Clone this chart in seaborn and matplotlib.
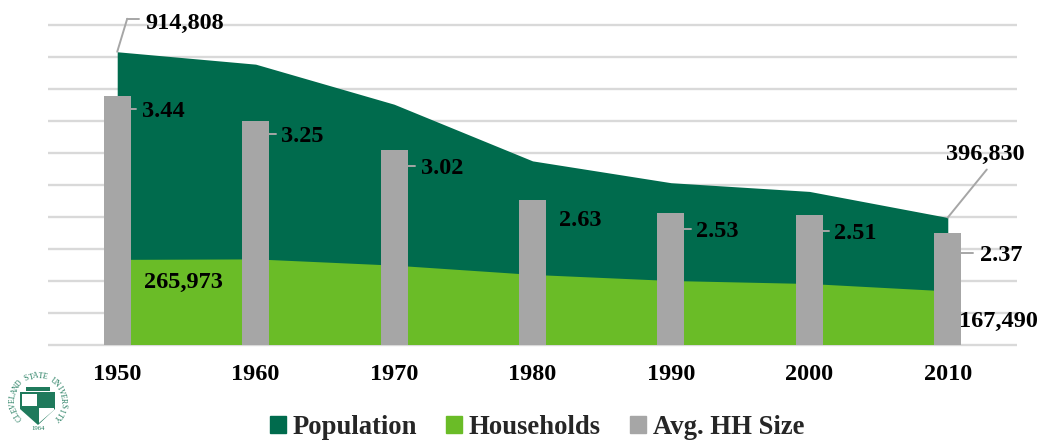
import matplotlib
matplotlib.use("Agg")
import matplotlib.pyplot as plt
from matplotlib.patches import Patch, Polygon, Rectangle
import numpy as np
import pandas as pd
import seaborn as sns

# Data
years = ["1950", "1960", "1970", "1980", "1990", "2000", "2010"]
population = [914808, 876050, 750903, 573822, 505616, 478403, 396830]
households = [265973, 267500, 248000, 219000, 200000, 190600, 167490]
hh_size = [3.44, 3.25, 3.02, 2.63, 2.53, 2.51, 2.37]

DARK = "#006B4D"
LIGHT = "#6ABC27"
GREY = "#A6A6A6"
GRID = "#D9D9D9"
LEADER = "#A6A6A6"
W, H = 1040, 441

sns.set_theme(style="white")
plt.rcParams["font.family"] = ["Liberation Serif", "DejaVu Serif"]
plt.rcParams["font.weight"] = "bold"

df = pd.DataFrame({"year": years, "population": population,
                   "households": households, "hh_size": hh_size})
pos = np.arange(len(years))

fig = plt.figure(figsize=(W / 100, H / 100), dpi=100, facecolor="white")
ax = fig.add_axes([48 / W, 1 - 344.5 / H, 969 / W, 320 / H])

# Areas on the primary axis, bars on the secondary one
ax.fill_between(pos, df["population"], color=DARK, lw=0, zorder=2)
ax.fill_between(pos, df["households"], color=LIGHT, lw=0, zorder=3)

ax2 = ax.twinx()
sns.barplot(data=df, x="year", y="hh_size", color=GREY, saturation=1,
            width=0.195, linewidth=0, ax=ax2, zorder=3)
ax2.set_ylim(1.5, 4.0)
ax2.set_ylabel("")
ax2.set_xlabel("")
ax2.set_yticks([])
ax2.patch.set_alpha(0)

ax.set_xlim(-0.5, len(years) - 0.5)
ax.set_ylim(0, 1000000)
ax.set_yticks(np.arange(0, 1000001, 100000))
ax.set_yticklabels([])
ax.set_xticks(pos)
ax.set_xticklabels(years, fontsize=17.5, fontweight="bold", color="black")
ax.tick_params(axis="x", length=0, pad=14)
ax.tick_params(axis="y", length=0)
ax.grid(axis="y", color=GRID, lw=1.7, zorder=0)
ax.set_axisbelow(True)
for line in ax.get_ygridlines():
    line.set_clip_on(False)
    line.set_solid_capstyle("butt")
for a in (ax, ax2):
    for side, sp in a.spines.items():
        sp.set_visible(False)


def label(coords, i, val, text, dx, dy):
    # drawn on ax2 so the text stays above the bars
    ax2.annotate(text, xy=(i, val), xycoords=coords, xytext=(dx, dy),
                 textcoords="offset pixels", fontsize=17.5, fontweight="bold",
                 color="black", ha="left", va="center", zorder=10, annotation_clip=False)


def seg(axis, i, val, p0, p1):
    # straight leader piece, both ends given as pixel offsets from the point
    x, y = axis.transData.transform((i, val))
    inv = fig.transFigure.inverted()
    a = inv.transform((x + p0[0], y + p0[1]))
    b = inv.transform((x + p1[0], y + p1[1]))
    fig.add_artist(plt.Line2D([a[0], b[0]], [a[1], b[1]], color=LEADER, lw=1.4, zorder=9))


# Population / household labels
label(ax.transData, 0, population[0], f"{population[0]:,}", 28.5, 28)
seg(ax, 0, population[0], (0, 0), (10, 33))
seg(ax, 0, population[0], (10, 33), (22, 33))
label(ax.transData, 6, population[6], f"{population[6]:,}", -1.5, 63)
seg(ax, 6, population[6], (0, 0), (39, 48))
label(ax.transData, 0, households[0], f"{households[0]:,}", 26.5, -23)
label(ax.transData, 6, households[6], f"{households[6]:,}", 11.5, -31)

# Bar labels, with short leaders except where the label sits clear of the bar
size_dx = [24.5, 25, 26.5, 27, 25.5, 25, 32.5]
size_dy = [-15.5, -15.5, -18.5, -20.5, -18.5, -18.5, -22.5]
lead_y = [-13, -13, -16, None, -16, -16, -20]
lead_end = [19, 20, 21, None, 20.5, 20, 25]
for i, v in enumerate(hh_size):
    label(ax2.transData, i, v, f"{v:.2f}", size_dx[i], size_dy[i])
    if lead_end[i] is not None:
        seg(ax2, i, v, (13.5, lead_y[i]), (lead_end[i], lead_y[i]))

handles = [Patch(color=DARK, label="Population"), Patch(color=LIGHT, label="Households"),
           Patch(color=GREY, label="Avg. HH Size")]
fig.legend(handles=handles, loc="center", bbox_to_anchor=(537 / W, 1 - 427 / H), ncol=3,
           frameon=False, prop={"size": 19.2, "weight": "bold"}, handlelength=0.6,
           handleheight=0.6, handletextpad=0.25, columnspacing=1.09, borderpad=0)

# University seal, lower left corner
logo = fig.add_axes([8 / W, 1 - 431 / H, 60 / W, 60 / H])
logo.set_xlim(-30, 30)
logo.set_ylim(-30, 30)
logo.axis("off")
SEAL = "#1F7A5C"
ring = "CLEVELAND STATE UNIVERSITY"
angles = np.linspace(222, -42, len(ring))
for ch, ang in zip(ring, angles):
    r = np.radians(ang)
    logo.text(25 * np.cos(r), 25 * np.sin(r), ch, rotation=ang - 90, fontsize=5.6,
              fontweight="normal", color=SEAL, ha="center", va="center")
logo.text(0, -27, "1964", fontsize=4.8, fontweight="normal", color=SEAL, ha="center", va="center")
logo.add_patch(Polygon([(-18, 9), (17, 9), (17, -8), (0, -24), (-18, -8)], color=SEAL, lw=0))
logo.add_patch(Rectangle((-16, -5), 15, 12, color="white", lw=0))
logo.add_patch(Polygon([(1, -7), (16, -7), (16, -9), (1, -22)], color="white", lw=0))
logo.add_patch(Rectangle((-12, 10.5), 24, 4, color=SEAL, lw=0))

fig.savefig("out.png", dpi=100)
